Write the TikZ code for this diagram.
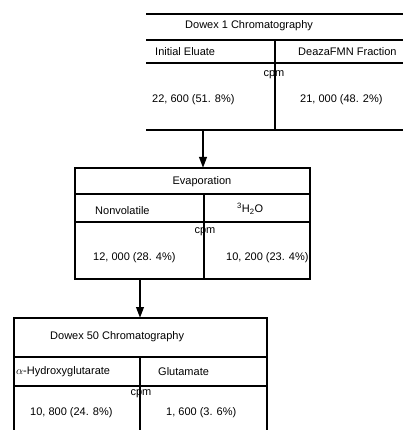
\documentclass[tikz,border=0pt]{standalone}
\usepackage{fontspec}
\setmainfont{Liberation Sans}
\usetikzlibrary{arrows.meta}
\begin{document}
\begin{tikzpicture}[x=1pt,y=-1pt,
  font=\fontsize{11}{13}\selectfont,
  rule/.style={line width=1.3pt},
  lbl/.style={inner sep=0pt, anchor=west},
  ctr/.style={inner sep=0pt},
  flow/.style={line width=2.2pt, -{Triangle[length=11pt,width=7.5pt]}}]
\useasboundingbox (0,0) rectangle (403,430);
% ---- top box (Dowex 1) ----
\draw[rule] (146,14) -- (403,14);
\draw[rule] (146,40) -- (403,40);
\draw[rule] (146,63) -- (403,63);
\draw[rule] (146,130) -- (403,130);
\draw[rule] (275,40) -- (275,130);
\node[lbl] (d1) at (185,26) {Dowex 1 Chromatography};
\node[lbl] (ie) at (155,52) {Initial Eluate};
\node[lbl] (df) at (298,52) {DeazaFMN Fraction};
\node[ctr] (cpm1) at (274,75) {cpm};
\node[lbl] (v1) at (152,100) {22, 600 (51. 8\%)};
\node[lbl] (v2) at (300,100) {21, 000 (48. 2\%)};
% ---- middle box (Evaporation) ----
\draw[rule] (75,168) rectangle (310,279);
\draw[rule] (75,194) -- (310,194);
\draw[rule] (75,222) -- (310,222);
\draw[rule] (204,194) -- (204,279);
\node[ctr] (ev) at (202,182) {Evaporation};
\node[lbl] (nv) at (95,211) {Nonvolatile};
\node[lbl] (hw) at (237,209) {\textsuperscript{3}H\textsubscript{2}O};
\node[ctr] (cpm2) at (205,232) {cpm};
\node[lbl] (v3) at (93,258) {12, 000 (28. 4\%)};
\node[lbl] (v4) at (226,258) {10, 200 (23. 4\%)};
% ---- bottom box (Dowex 50) ----
\draw[rule] (14,430) -- (14,318) -- (267,318) -- (267,430);
\draw[rule] (14,357) -- (267,357);
\draw[rule] (14,386) -- (267,386);
\draw[rule] (140,357) -- (140,430);
\node[lbl] (d50) at (50,337) {Dowex 50 Chromatography};
\node[lbl] (hg) at (16,372) {$\alpha$-Hydroxyglutarate};
\node[lbl] (gl) at (158,372) {Glutamate};
\node[ctr] (cpm3) at (141,394) {cpm};
\node[lbl] (v5) at (30,413) {10, 800 (24. 8\%)};
\node[lbl] (v6) at (166,413) {1, 600 (3. 6\%)};
% ---- arrows ----
\coordinate (a1s) at (203,130);
\coordinate (a1e) at (203,168);
\coordinate (a2s) at (140,279);
\coordinate (a2e) at (140,318);
\draw[flow] (a1s) -- (a1e);
\draw[flow] (a2s) -- (a2e);
\end{tikzpicture}
\end{document}
